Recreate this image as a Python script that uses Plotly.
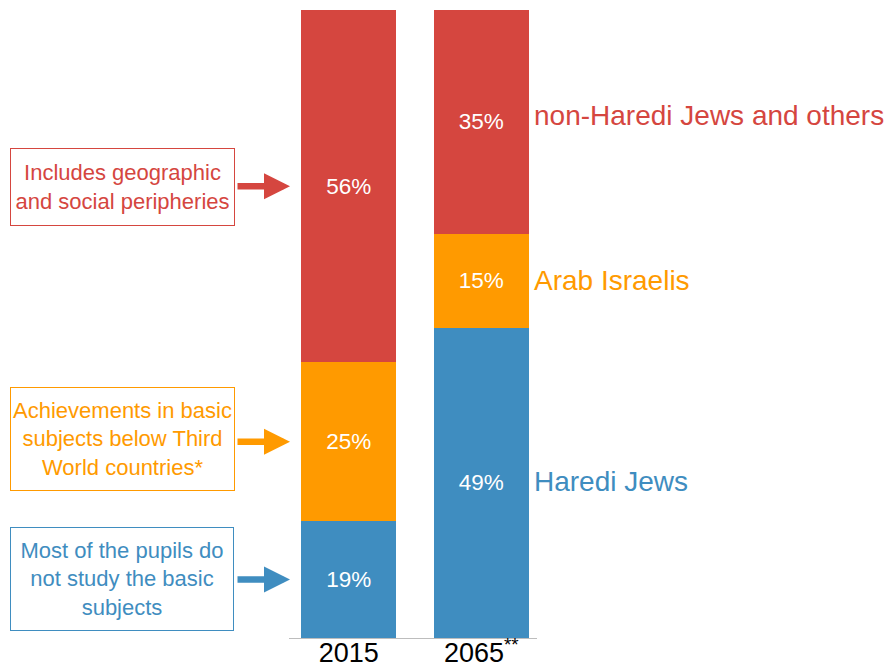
import plotly.graph_objects as go

# ------------------------------------------------------------------
years = ['2015', '2065<sup>**</sup>']
groups = ['Haredi Jews', 'Arab Israelis', 'non-Haredi Jews and others']
shares_2015 = [18.6, 25.3, 56.1]
shares_2065 = [49.4, 15.0, 35.6]
labels_2015 = ['19%', '25%', '56%']
labels_2065 = ['49%', '15%', '35%']
notes = [
    'Most of the pupils do<br>not study the basic<br>subjects',
    'Achievements in basic<br>subjects below Third<br>World countries*',
    'Includes geographic<br>and social peripheries',
]
colors = ['#3F8DC0', '#FF9A00', '#D5463F']

# ------------------------------------------------------------------
# the page puts the figure 8px in from the window corner
OFF = 8
W, H = 895 - OFF, 670 - OFF
L, R, T, B = 289 - OFF, 358, 10 - OFF, 32
PW, PH = W - L - R, H - T - B
FONT = 'Liberation Sans, Arial'


def px_x(x):
    return (x - OFF - L) / PW


def px_y(y):
    return (H - B - (y - OFF)) / PH


fig = go.Figure()
for i, group in enumerate(groups):
    fig.add_trace(go.Bar(
        name=group,
        x=years,
        y=[shares_2015[i], shares_2065[i]],
        text=[labels_2015[i], labels_2065[i]],
        textposition='inside',
        insidetextanchor='middle',
        textangle=0,
        textfont=dict(color='white', size=22.5, family=FONT),
        marker=dict(color=colors[i], line=dict(width=0)),
        width=0.72,
        hoverinfo='skip',
    ))

# right-hand labels, next to the 2065 segments
label_shift = [1, 0, 6]
base = 0
for i, group in enumerate(groups):
    mid = base + shares_2065[i] / 2
    base += shares_2065[i]
    fig.add_annotation(
        x=px_x(532), y=mid, xref='paper', yref='y', text=group, showarrow=False,
        xanchor='left', yshift=label_shift[i],
        font=dict(size=28, color=colors[i], family=FONT),
    )

# left boxes with arrows, pointing at 2015 segments
boxes = [(10, 527, 234, 631), (10, 387, 235, 491), (10, 148, 235, 226)]
base = 0
for i, note in enumerate(notes):
    mid = base + shares_2015[i] / 2
    base += shares_2015[i]
    x0, y0, x1, y1 = boxes[i]
    fig.add_annotation(
        x=px_x((x0 + x1) / 2), y=px_y((y0 + y1) / 2), xref='paper', yref='paper',
        text=note, showarrow=False, align='center',
        xanchor='center', yanchor='middle',
        width=x1 - x0 - 2, height=y1 - y0 - 2,
        bordercolor=colors[i], borderwidth=1, borderpad=0,
        font=dict(size=22, color=colors[i], family=FONT),
    )
    fig.add_annotation(
        x=px_x(290), y=mid, xref='paper', yref='y', text='',
        showarrow=True, ax=-54, ay=0, arrowhead=2, arrowsize=0.8,
        arrowwidth=6.5, arrowcolor=colors[i], standoff=0, startstandoff=0,
    )

fig.update_layout(
    barmode='stack',
    width=W, height=H,
    margin=dict(l=L, r=R, t=T, b=B, autoexpand=False),
    plot_bgcolor='white', paper_bgcolor='white',
    showlegend=False,
)
fig.update_xaxes(
    range=[-0.45, 1.42], showline=True, linecolor='#BDBDBD', linewidth=1,
    ticks='', showgrid=False, ticklabelstandoff=-9,
    tickfont=dict(size=27, color='black', family=FONT),
)
fig.update_yaxes(range=[0, 100], visible=False, showgrid=False)

fig.write_html('out.html')
